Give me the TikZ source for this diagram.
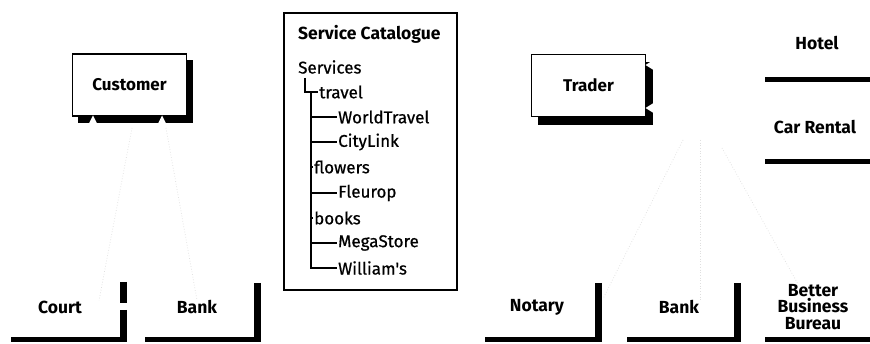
\documentclass[tikz,border=0pt]{standalone}
\usepackage{fontspec}
\setmainfont{Fira Sans}
\newfontfamily\treefont{Fira Sans}[FakeBold=0.7]
\begin{document}
\begin{tikzpicture}[x=1pt,y=-1pt,
  lbl/.style={font=\bfseries\fontsize{17.5}{16.5}\selectfont, align=center, inner sep=0pt},
  treetxt/.style={font=\treefont\fontsize{17}{18}\selectfont, anchor=west, inner sep=0pt},
  boxnode/.style={draw, line width=1.4pt, fill=white, minimum width=114pt, minimum height=62pt, font=\bfseries\fontsize{17}{18}\selectfont, inner sep=0pt},
  bar/.style={line width=7pt},
  baseline/.style={line width=5pt},
  treeline/.style={line width=1.7pt},
  faint/.style={draw=gray!25, dotted, line width=0.7pt}]
\useasboundingbox (0,0) rectangle (870,344);
\fill[white] (0,0) rectangle (870,344);

% ---------- Customer ----------
\fill[black] (78,60) rectangle (193,123);
\node[boxnode] (cust) at (129.5,85) {Customer};
\fill[white] (89,123.5) -- (93,115.5) -- (97,123.5) -- cycle;
\fill[white] (158,123.5) -- (162,115.5) -- (166,123.5) -- cycle;

% ---------- Trader ----------
\fill[black] (538,62) rectangle (653,125);
\node[boxnode] (trader) at (588.5,85.5) {Trader};
\fill[white] (653.5,60) -- (645.5,65) -- (653.5,70) -- cycle;
\fill[white] (653.5,103) -- (645.5,108) -- (653.5,113) -- cycle;

% ---------- Service Catalogue ----------
\node[draw, line width=1.4pt, minimum width=173pt, minimum height=277pt, inner sep=0pt] (cat) at (370.5,151.5) {};
\node[lbl, anchor=west] (cattitle) at (298,34) {Service Catalogue};
\node[treetxt] (services) at (298,67) {Services};
\node[treetxt] (travel) at (319,92) {travel};
\node[treetxt] (wt) at (338,117) {WorldTravel};
\node[treetxt] (cl) at (338,142) {CityLink};
\node[treetxt] (fl) at (314,167) {flowers};
\node[treetxt] (fr) at (338,193) {Fleurop};
\node[treetxt] (bk) at (314,218) {books};
\node[treetxt] (ms) at (338,243) {MegaStore};
\node[treetxt] (wi) at (338,268) {William's};
\coordinate (hook) at (305,78);
\coordinate (trunk) at (311,92);
\draw[treeline] (hook) |- ([xshift=-1.5pt]travel.west);
\foreach \n in {wt,cl,fl,fr,bk,ms,wi}
  \draw[treeline] (trunk) |- ([xshift=-1.5pt]\n.west);

% ---------- Hotel / Car Rental ----------
\node[lbl] (hotel) at (817,43) {Hotel};
\node[lbl] (car) at (815,127) {Car Rental};
\draw[baseline] (765,80) -- (870,80);
\draw[baseline] (765,162) -- (870,162);

% ---------- bottom row ----------
\node[lbl] (court) at (60,307) {Court};
\node[lbl] (bank1) at (197,307) {Bank};
\node[lbl] (notary) at (537,307) {Notary};
\node[lbl] (bank2) at (679,307) {Bank};
\node[lbl] (bbb) at (813,307) {Better\\Business\\Bureau};

\draw[baseline] (11,340) -- (126,340);
\draw[bar] (123,282) -- (123,303);
\draw[bar] (123,310) -- (123,342.5);
\draw[baseline] (145,340) -- (260,340);
\draw[bar] (257,283) -- (257,342.5);
\draw[baseline] (485,340) -- (601,340);
\draw[bar] (598,283) -- (598,342.5);
\draw[baseline] (627,340) -- (740,340);
\draw[bar] (737,283) -- (737,342.5);
\draw[baseline] (765,340) -- (870,340);

% ---------- faint connectors ----------
\coordinate (c1) at (132,128);
\coordinate (c2) at (166,128);
\coordinate (t1) at (683,140);
\coordinate (t2) at (700,140);
\coordinate (t3) at (722,148);
\draw[faint] (c1) -- (court.north -| 99,0) ;
\draw[faint] (c2) -- (bank1.north);
\draw[faint] (t1) -- (notary.north -| 603,0);
\draw[faint] (t2) -- (bank2.north -| 700,0);
\draw[faint] (t3) -- (bbb.north -| 798,0);
\end{tikzpicture}
\end{document}
